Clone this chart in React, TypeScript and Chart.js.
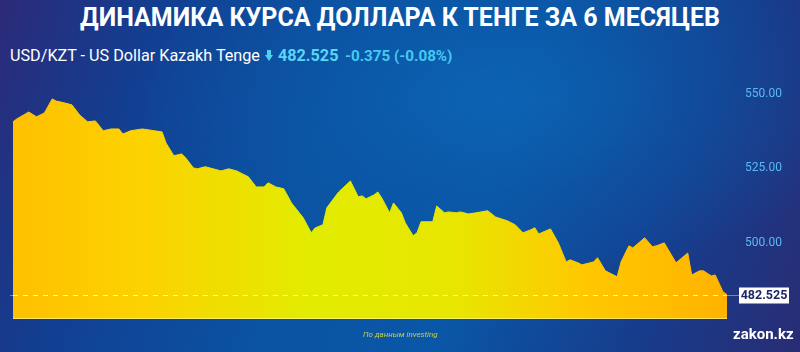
import React, { useEffect, useRef } from "react";
import { Chart, registerables } from "chart.js";

Chart.register(...registerables);

// Trading-day offsets over the 6 months
const days = [
  0, 1, 4, 6, 8, 10, 11, 13, 15, 17, 19, 21, 23, 25, 27, 28, 30, 33, 36, 38,
  39, 41, 43, 44, 46, 47, 49, 51, 53, 55, 57, 60, 62, 64, 65, 67, 69, 71, 74, 76,
  77, 79, 80, 83, 86, 88, 89, 90, 92, 93, 94, 96, 97, 99, 100, 102, 103, 104, 107, 108,
  110, 111, 113, 114, 115, 116, 118, 121, 123, 126, 128, 130, 132, 133, 134, 137, 139, 141, 142, 144,
  145, 148, 149, 151, 154, 155, 157, 158, 161, 163, 164, 166, 169, 172, 173, 175, 176, 178, 179, 181,
  182,
];

// USD/KZT rate
const rates = [
  540.6, 541.6, 543.9, 542.3, 543.6, 548.3, 547.6, 547.0, 546.3, 542.9, 540.6, 540.9, 537.6, 538.2, 538.2, 536.5, 537.6, 538.2, 537.6, 537.2,
  533.5, 529.2, 529.8, 528.5, 525.1, 524.8, 525.5, 524.8, 524.1, 524.8, 524.1, 522.1, 518.7, 518.7, 520.1, 518.7, 518.1, 513.3, 508.3, 503.3,
  504.9, 506.0, 511.7, 517.0, 520.7, 515.4, 515.7, 514.7, 516.0, 517.0, 515.0, 510.0, 513.3, 510.0, 506.6, 502.3, 503.3, 507.0, 507.0, 512.3,
  510.0, 510.3, 510.0, 510.3, 510.0, 509.6, 510.0, 510.7, 508.6, 507.3, 506.0, 503.3, 504.3, 505.0, 502.9, 504.6, 499.9, 493.5, 494.2, 493.2,
  492.5, 493.5, 494.9, 490.5, 488.5, 493.5, 498.9, 498.2, 501.6, 498.6, 498.9, 499.9, 493.2, 496.5, 489.1, 490.5, 490.5, 488.8, 489.1, 483.4,
  482.525,
];

const yTicks = [500, 525, 550];
const lastPrice = 482.525;
const titleText = "ДИНАМИКА КУРСА ДОЛЛАРА К ТЕНГЕ ЗА 6 МЕСЯЦЕВ";
const pairText = "USD/KZT - US Dollar Kazakh Tenge";
const priceText = "482.525";
const changeText = "-0.375 (-0.08%)";
const sourceText = "По данным investing";
const brandText = "zakon.kz";

export default function App() {
  const ref = useRef<HTMLCanvasElement | null>(null);

  useEffect(() => {
    const canvas = ref.current;
    if (!canvas) return;

    const priceLine = {
      id: "priceLine",
      afterDatasetsDraw(chart: any) {
        const { ctx, chartArea, scales } = chart;
        const y = Math.round(scales.y.getPixelForValue(lastPrice)) + 0.5;
        ctx.save();
        ctx.strokeStyle = "rgba(255,250,140,0.7)";
        ctx.lineWidth = 1;
        ctx.beginPath();
        ctx.moveTo(chartArea.left, chartArea.bottom - 0.5);
        ctx.lineTo(chartArea.right, chartArea.bottom - 0.5);
        ctx.stroke();
        ctx.setLineDash([5, 5]);
        ctx.strokeStyle = "rgba(255,255,170,0.95)";
        ctx.beginPath();
        ctx.moveTo(chartArea.left, y);
        ctx.lineTo(chartArea.right, y);
        ctx.stroke();
        ctx.setLineDash([]);
        ctx.strokeStyle = "#3d9ae0";
        ctx.beginPath();
        ctx.moveTo(chartArea.left - 3, y);
        ctx.lineTo(chartArea.left, y);
        ctx.moveTo(chartArea.right, y);
        ctx.lineTo(chartArea.right + 12, y);
        ctx.stroke();
        const bx = chartArea.right + 12;
        const bw = 50;
        const bh = 16;
        ctx.fillStyle = "#ffffff";
        ctx.fillRect(bx, y - bh / 2, bw, bh);
        ctx.fillStyle = "#1d2763";
        ctx.font = "bold 12.5px Roboto";
        ctx.textAlign = "center";
        ctx.textBaseline = "middle";
        ctx.fillText(priceText, bx + bw / 2, y + 0.5);
        ctx.restore();
      },
    };

    const chart = new Chart(canvas, {
      type: "line",
      data: {
        datasets: [
          {
            data: days.map((d, i) => ({ x: d, y: rates[i] })),
            fill: "start",
            tension: 0,
            pointRadius: 0,
            borderWidth: 1,
            borderColor: (c: any) => grad(c),
            backgroundColor: (c: any) => grad(c),
          },
        ],
      },
      options: {
        responsive: false,
        animation: false,
        layout: { padding: { left: 13, top: 79, bottom: 33, right: 0 } },
        plugins: { legend: { display: false }, tooltip: { enabled: false } },
        scales: {
          x: { type: "linear", min: 0, max: 182, display: false },
          y: {
            position: "right",
            min: 474.3,
            max: 555,
            afterBuildTicks: (axis: any) => {
              axis.ticks = yTicks.map((v) => ({ value: v }));
            },
            afterFit: (axis: any) => {
              axis.width = 73;
            },
            grid: { display: false, drawTicks: false },
            border: { display: false },
            ticks: {
              padding: 18,
              color: "#5cb9f0",
              font: { family: "Roboto", size: 12 },
              callback: (v: any) => Number(v).toFixed(2),
            },
          },
        },
      },
      plugins: [priceLine],
    });

    function grad(c: any) {
      const ch = c.chart;
      const area = ch.chartArea;
      if (!area) return "#f5d800";
      const g = ch.ctx.createLinearGradient(area.left, 0, area.right, 0);
      g.addColorStop(0, "#ffc000");
      g.addColorStop(0.18, "#fcd200");
      g.addColorStop(0.42, "#e2ec00");
      g.addColorStop(0.62, "#e8e600");
      g.addColorStop(0.8, "#ffc800");
      g.addColorStop(1, "#ffb300");
      return g;
    }

    return () => chart.destroy();
  }, []);

  const base: React.CSSProperties = {
    position: "absolute",
    whiteSpace: "nowrap",
    fontFamily: "Roboto, sans-serif",
  };

  return (
    <div
      style={{
        position: "fixed",
        left: 0,
        top: 0,
        width: 800,
        height: 352,
        overflow: "hidden",
        background:
          "radial-gradient(ellipse 45% 55% at 62% 28%, rgba(12,100,180,0.9) 0%, rgba(12,90,170,0.5) 50%, rgba(12,80,160,0) 100%), linear-gradient(110deg, #2b2a78 0%, #123f92 18%, #0b52a2 40%, #0a57a7 60%, #173c8c 82%, #292c74 100%)",
      }}
    >
      <div
        style={{
          ...base,
          left: 0,
          width: 800,
          top: 3,
          textAlign: "center",
          color: "#ffffff",
          fontWeight: 700,
          fontSize: 25,
          lineHeight: "30px",
        }}
      >
        {titleText}
      </div>
      <div style={{ ...base, left: 10, top: 46, color: "#ffffff", fontSize: 16.2, fontWeight: 400, lineHeight: "20px" }}>
        {pairText}
      </div>
      <svg style={{ position: "absolute", left: 265, top: 50 }} width="8" height="11" viewBox="0 0 8 11">
        <polygon points="2,0 6,0 6,5 8,5 4,11 0,5 2,5" fill="#4fd2f2" />
      </svg>
      <div style={{ ...base, left: 278, top: 46, color: "#5ad6f5", fontSize: 16.2, fontWeight: 700, lineHeight: "20px" }}>
        {priceText}
      </div>
      <div style={{ ...base, left: 345, top: 46, color: "#45c9f0", fontSize: 15.2, fontWeight: 700, lineHeight: "20px" }}>
        {changeText}
      </div>
      <canvas ref={ref} width={800} height={352} style={{ position: "absolute", left: 0, top: 0 }} />
      <div
        style={{
          ...base,
          left: 363,
          top: 329,
          color: "#c8cf48",
          fontSize: 8,
          fontStyle: "italic",
          lineHeight: "12px",
        }}
      >
        {sourceText}
      </div>
      <div style={{ ...base, left: 733, top: 324, color: "#ffffff", fontSize: 15, fontWeight: 700, lineHeight: "20px" }}>
        {brandText}
      </div>
    </div>
  );
}
